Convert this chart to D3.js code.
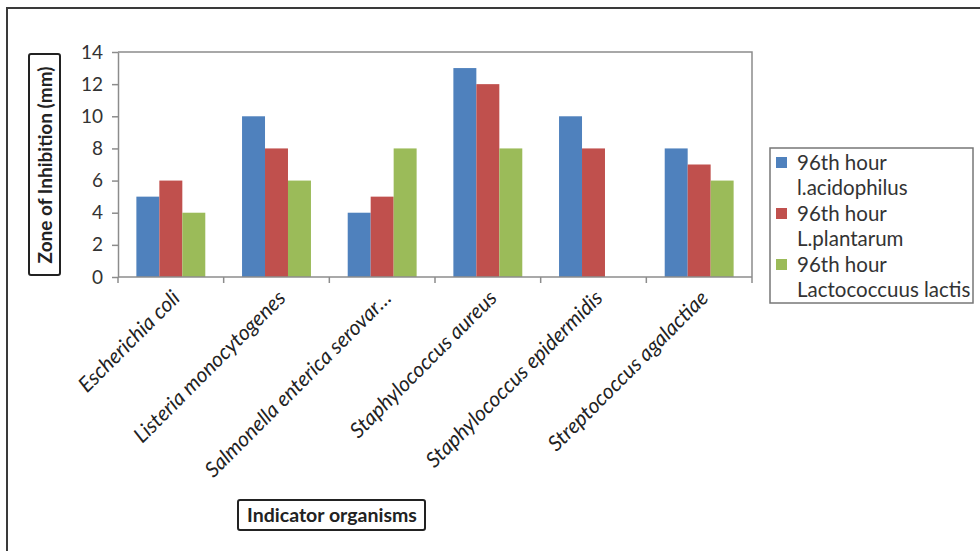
<!DOCTYPE html>
<html>
<head>
<meta charset="utf-8">
<script src="https://cdn.jsdelivr.net/npm/d3@7"></script>
<style>
  body { margin: 0; background: #fff; }
  svg { display: block; font-family: Lato, "Open Sans", sans-serif; }
</style>
</head>
<body>
<svg id="chart" width="980" height="551"></svg>
<script>
// dados
var organisms = ["Escherichia coli", "Listeria monocytogenes", "Salmonella enterica serovar\u2026",
    "Staphylococcus aureus", "Staphylococcus epidermidis", "Streptococcus agalactiae"];
var legendLines = [["96th hour", "l.acidophilus"], ["96th hour", "L.plantarum"], ["96th hour", "Lactococcuus lactis"]];
var acidophilus = [5, 10, 4, 13, 10, 8];
var plantarum = [6, 8, 5, 12, 8, 7];
var lactis = [4, 6, 8, 8, null, 6];
var yTicks = [0, 2, 4, 6, 8, 10, 12, 14];
var colors = ["#4F81BD", "#C0504D", "#9BBB59"];

var svg = d3.select("#chart");

// moldura de fora
svg.append("path")
    .attr("d", "M7,551 L7,8 L980,8")
    .attr("fill", "none")
    .attr("stroke", "#3a3a3a")
    .attr("stroke-width", 2);

var plot = {left: 118, top: 52, right: 752, bottom: 277};

var xScale = d3.scaleBand()
    .domain(organisms)
    .range([plot.left, plot.right]);
var inner = d3.scaleBand()
    .domain([0, 1, 2])
    .range([0, xScale.bandwidth()])
    .paddingInner(0)
    .paddingOuter(0.8);
var yScale = d3.scaleLinear()
    .domain([0, 14])
    .range([plot.bottom, plot.top]);

// borda da area do grafico (topo e direita)
svg.append("path")
    .attr("d", "M" + plot.left + "," + plot.top + " L" + plot.right + "," + plot.top + " L" + plot.right + "," + plot.bottom)
    .attr("fill", "none")
    .attr("stroke", "#8c8c8c")
    .attr("stroke-width", 1.5);

var series = [acidophilus, plantarum, lactis];
series.forEach(function (vals, s) {
    svg.append("g").selectAll("rect")
        .data(vals.map(function (v, i) { return {org: organisms[i], value: v}; })
            .filter(function (d) { return d.value !== null; }))
        .enter().append("rect")
        .attr("x", function (d) { return xScale(d.org) + inner(s); })
        .attr("width", inner.bandwidth())
        .attr("y", function (d) { return yScale(d.value); })
        .attr("height", function (d) { return plot.bottom - yScale(d.value); })
        .attr("fill", colors[s]);
});

// eixo y
var yAxis = svg.append("g")
    .attr("transform", "translate(" + plot.left + ",0)")
    .call(d3.axisLeft(yScale).tickValues(yTicks).tickSize(6).tickSizeOuter(0).tickPadding(9));
yAxis.attr("font-family", null);
yAxis.select(".domain").attr("stroke", "#8c8c8c").attr("stroke-width", 1.5);
yAxis.selectAll(".tick line").attr("stroke", "#8c8c8c").attr("stroke-width", 1.5);
yAxis.selectAll(".tick text")
    .attr("fill", "#333")
    .style("font-size", "19px");

// eixo x: ticks nos limites das categorias
var bounds = organisms.map(function (o) { return xScale(o); }).concat([plot.right]);
svg.append("line")
    .attr("x1", plot.left).attr("x2", plot.right)
    .attr("y1", plot.bottom).attr("y2", plot.bottom)
    .attr("stroke", "#8c8c8c").attr("stroke-width", 1.5);
svg.append("g").selectAll("line").data(bounds).enter()
    .append("line")
    .attr("x1", function (d) { return d; }).attr("x2", function (d) { return d; })
    .attr("y1", plot.bottom).attr("y2", plot.bottom + 6)
    .attr("stroke", "#8c8c8c").attr("stroke-width", 1.5);

svg.append("g").selectAll("text").data(organisms).enter()
    .append("text")
    .attr("transform", function (d) {
        return "translate(" + (xScale(d) + xScale.bandwidth() / 2) + "," + (plot.bottom + 12) + ") rotate(-45)";
    })
    .attr("text-anchor", "end")
    .attr("dy", "0.7em")
    .style("font-style", "italic")
    .style("font-size", "21px")
    .attr("fill", "#222")
    .text(function (d) { return d; });

// titulo do eixo y numa caixa
svg.append("rect")
    .attr("x", 29).attr("y", 54).attr("width", 31).attr("height", 221)
    .attr("fill", "#fff").attr("stroke", "#222").attr("stroke-width", 2).attr("rx", 2);
svg.append("text")
    .attr("transform", "translate(45,165) rotate(-90)")
    .attr("text-anchor", "middle")
    .attr("dy", "0.35em")
    .style("font-weight", "bold")
    .style("font-size", "19px")
    .attr("fill", "#222")
    .text("Zone of Inhibition (mm)");

// titulo do eixo x numa caixa
svg.append("rect")
    .attr("x", 238).attr("y", 500).attr("width", 187).attr("height", 30)
    .attr("fill", "#fff").attr("stroke", "#222").attr("stroke-width", 2).attr("rx", 2);
svg.append("text")
    .attr("x", 332).attr("y", 515)
    .attr("text-anchor", "middle")
    .attr("dy", "0.35em")
    .style("font-weight", "bold")
    .style("font-size", "19.5px")
    .attr("fill", "#222")
    .text("Indicator organisms");

// legenda
var legend = svg.append("g");
legend.append("rect")
    .attr("x", 770).attr("y", 148).attr("width", 203).attr("height", 155)
    .attr("fill", "#fff").attr("stroke", "#777").attr("stroke-width", 1.5);
legendLines.forEach(function (lines, i) {
    var y0 = 163 + i * 51;
    legend.append("rect")
        .attr("x", 776).attr("y", y0 - 6).attr("width", 11).attr("height", 11)
        .attr("fill", colors[i]);
    lines.forEach(function (t, j) {
        legend.append("text")
            .attr("x", 797).attr("y", y0 + j * 25)
            .attr("dy", "0.35em")
            .style("font-size", "20.5px")
            .attr("fill", "#333")
            .text(t);
    });
});
</script>
</body>
</html>
